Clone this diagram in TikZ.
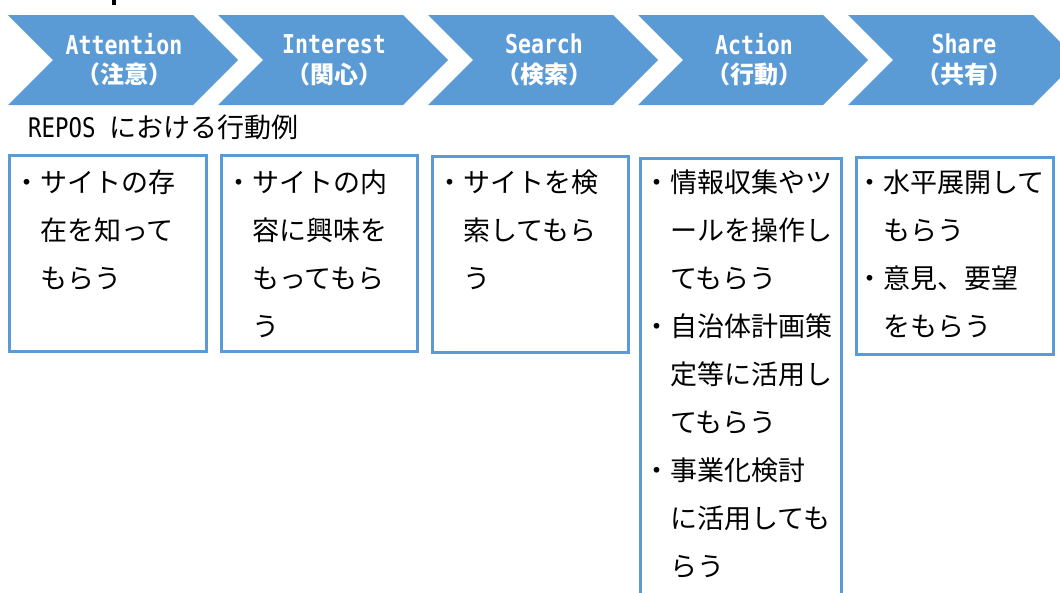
\documentclass[tikz,border=0pt]{standalone}
\usepackage{fontspec}
\newfontfamily\jpf{Noto Sans CJK JP}
\newfontfamily\hdmono{DejaVu Sans Mono}[FakeStretch=0.83]
\definecolor{ofblue}{HTML}{5B9BD5}
\begin{document}
\begin{tikzpicture}[x=1pt,y=-1pt,
  chev/.style={fill=ofblue},
  hlat/.style={text=white,font=\hdmono\bfseries\fontsize{26}{26}\selectfont,inner sep=0},
  hjp/.style={text=white,font=\jpf\bfseries\fontsize{24}{24}\selectfont,inner sep=0},
  card/.style={draw=ofblue,line width=2.5pt,anchor=north west,inner sep=0},
  bodytext/.style={font=\jpf\fontsize{27}{48}\selectfont,align=left,inner sep=0,anchor=north west}]
\useasboundingbox (0,0) rectangle (1060,592);
\clip (0,0) rectangle (1060,592);
\fill[white] (0,0) rectangle (1060,592);
\fill[black] (112,0) rectangle (116,5);
\foreach \i/\lat/\jpt in {0/Attention/（注意）,1/Interest/（関心）,2/Search/（検索）,3/Action/（行動）,4/Share/（共有）}{
  \pgfmathsetmacro\L{8+210*\i}
  \fill[chev] (\L,15) -- ++(185,0) -- ++(45,45) -- ++(-45,45) -- ++(-185,0) -- ++(45,-45) -- cycle;
  \node[hlat] (lat\i) at (\L+116,44) {\lat};
  \node[hjp] (jp\i) at (\L+116,74) {\jpt};
}
\node[anchor=base west,inner sep=0,font=\fontsize{27}{27}\selectfont] (lbl) at (28,137) {{\hdmono REPOS }{\jpf における行動例}};
\node[card,minimum width=197pt,minimum height=196pt] (b1) at (8,154) {};
\node[card,minimum width=196pt,minimum height=196pt] (b2) at (220,154) {};
\node[card,minimum width=196pt,minimum height=196pt] (b3) at (431,155) {};
\node[card,minimum width=201pt,minimum height=463pt] (b4) at (639,157) {};
\node[card,minimum width=197pt,minimum height=197pt] (b5) at (855,156) {};
\node[bodytext] (t1) at (13,170) {・サイトの存\\\hphantom{・}在を知って\\\hphantom{・}もらう};
\node[bodytext] (t2) at (225,170) {・サイトの内\\\hphantom{・}容に興味を\\\hphantom{・}もってもら\\\hphantom{・}う};
\node[bodytext] (t3) at (436,170) {・サイトを検\\\hphantom{・}索してもら\\\hphantom{・}う};
\node[bodytext] (t4) at (643,170) {・情報収集やツ\\\hphantom{・}ールを操作し\\\hphantom{・}てもらう\\・自治体計画策\\\hphantom{・}定等に活用し\\\hphantom{・}てもらう\\・事業化検討\\\hphantom{・}に活用しても\\\hphantom{・}らう};
\node[bodytext] (t5) at (856,170) {・水平展開して\\\hphantom{・}もらう\\・意見、要望\\\hphantom{・}をもらう};
\end{tikzpicture}
\end{document}
